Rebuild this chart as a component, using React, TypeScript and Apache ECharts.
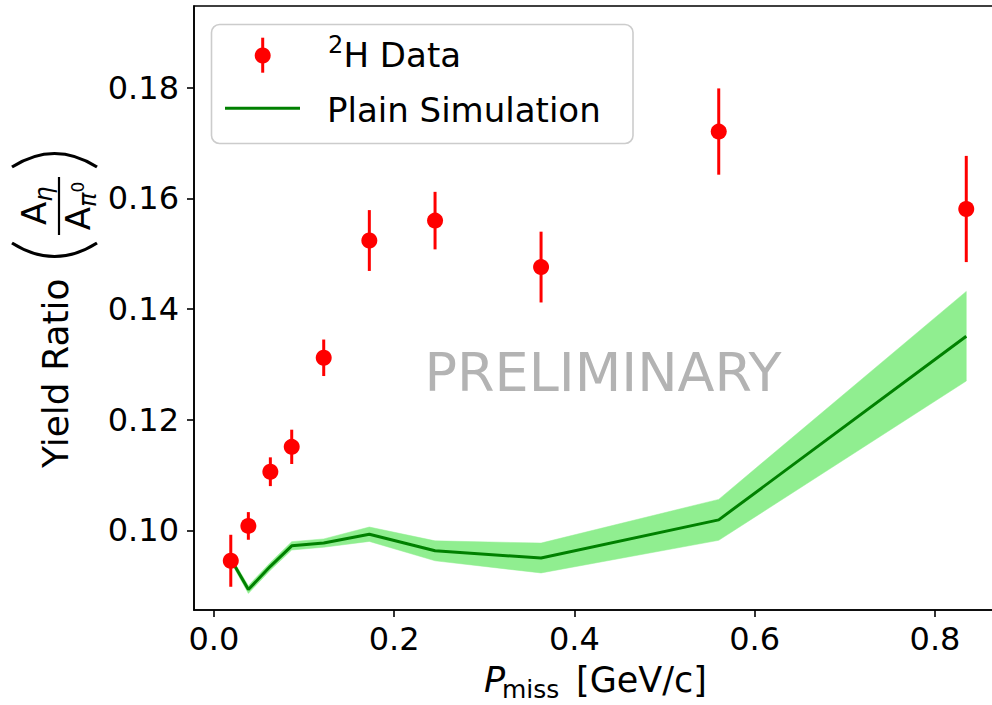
import React, { useEffect, useRef } from "react";
import * as echarts from "echarts";

const xVals = [0.0188, 0.0383, 0.0627, 0.0864, 0.1219, 0.1725, 0.2454, 0.363, 0.5601, 0.8347];
const dataY = [0.0945, 0.1008, 0.1106, 0.1151, 0.1312, 0.1524, 0.156, 0.1476, 0.1721, 0.1581];
const dataErr = [0.0047, 0.0025, 0.0026, 0.0031, 0.0033, 0.0055, 0.0052, 0.0064, 0.0078, 0.0096];
const simY = [0.0948, 0.0893, 0.0935, 0.0972, 0.0977, 0.0993, 0.0963, 0.095, 0.1019, 0.1351];
const simErr = [0.0005, 0.0007, 0.0007, 0.00075, 0.00075, 0.0013, 0.0018, 0.0027, 0.0037, 0.0081];
const xTicks = [0, 0.2, 0.4, 0.6, 0.8];
const yTicks = [0.1, 0.12, 0.14, 0.16, 0.18];

const FONT = "DejaVu Sans";

export default function App() {
  const ref = useRef<HTMLDivElement>(null);
  useEffect(() => {
    if (!ref.current) return;
    const chart = echarts.init(ref.current, null, { renderer: "svg" });
    const bandData = xVals.map((x, i) => [x, simY[i] - simErr[i], simY[i] + simErr[i]]);
    const option: any = {
      animation: false,
      backgroundColor: "#ffffff",
      grid: {
        left: 194,
        top: 6,
        width: 809.5,
        height: 604,
        show: true,
        borderColor: "#000",
        borderWidth: 1.6,
        backgroundColor: "transparent",
      },
      xAxis: {
        type: "value",
        min: -0.022,
        max: 0.876,
        splitLine: { show: false },
        axisLine: { show: true, onZero: false, lineStyle: { color: "#000", width: 1.6 } },
        axisTick: { show: true, inside: false, length: 7, customValues: xTicks, lineStyle: { color: "#000", width: 1.6 } },
        axisLabel: {
          customValues: xTicks,
          margin: 13,
          fontSize: 32,
          fontFamily: FONT,
          color: "#000",
          formatter: (v: number) => v.toFixed(1),
        },
      },
      yAxis: {
        type: "value",
        min: 0.0856,
        max: 0.1948,
        splitLine: { show: false },
        axisLine: { show: true, onZero: false, lineStyle: { color: "#000", width: 1.6 } },
        axisTick: { show: true, inside: false, length: 7, customValues: yTicks, lineStyle: { color: "#000", width: 1.6 } },
        axisLabel: {
          customValues: yTicks,
          margin: 15,
          fontSize: 32,
          fontFamily: FONT,
          color: "#000",
          formatter: (v: number) => v.toFixed(2),
        },
      },
      series: [
        {
          type: "custom",
          name: "band",
          data: bandData,
          encode: { x: 0, y: [1, 2] },
          renderItem: (params: any, api: any) => {
            if (params.dataIndex !== 0) return null;
            const upper = bandData.map((d) => api.coord([d[0], d[2]]));
            const lower = bandData.map((d) => api.coord([d[0], d[1]])).reverse();
            return {
              type: "polygon",
              shape: { points: upper.concat(lower) },
              style: { fill: "#90ee90", stroke: "#90ee90", lineWidth: 0.5 },
            };
          },
          z: 1,
        },
        {
          type: "line",
          name: "Plain Simulation",
          data: xVals.map((x, i) => [x, simY[i]]),
          showSymbol: false,
          symbol: "none",
          lineStyle: { color: "#008000", width: 3 },
          itemStyle: { color: "#008000" },
          z: 2,
        },
        {
          type: "custom",
          name: "errors",
          data: xVals.map((x, i) => [x, dataY[i], dataErr[i]]),
          encode: { x: 0, y: 1 },
          renderItem: (params: any, api: any) => {
            const x = api.value(0);
            const y = api.value(1);
            const e = api.value(2);
            const p1 = api.coord([x, y - e]);
            const p2 = api.coord([x, y + e]);
            return {
              type: "line",
              shape: { x1: p1[0], y1: p1[1], x2: p2[0], y2: p2[1] },
              style: { stroke: "#ff0000", lineWidth: 3 },
            };
          },
          z: 3,
        },
        {
          type: "scatter",
          name: "2H Data",
          data: xVals.map((x, i) => [x, dataY[i]]),
          symbol: "circle",
          symbolSize: 16,
          itemStyle: { color: "#ff0000", opacity: 1 },
          emphasis: { disabled: true },
          z: 4,
        },
      ],
      graphic: [
        {
          type: "text",
          z: 50,
          style: {
            text: "PRELIMINARY",
            x: 603,
            y: 372,
            align: "center",
            verticalAlign: "middle",
            fontSize: 54,
            fontFamily: FONT,
            fill: "#b3b3b3",
          },
        },
        {
          type: "group",
          z: 100,
          children: [
            {
              type: "rect",
              shape: { x: 211.5, y: 24.5, width: 421.5, height: 119, r: 8 },
              style: { fill: "rgba(255,255,255,0.8)", stroke: "#cccccc", lineWidth: 1.6 },
            },
            {
              type: "line",
              shape: { x1: 262.7, y1: 37.7, x2: 262.7, y2: 72.7 },
              style: { stroke: "#ff0000", lineWidth: 3 },
            },
            {
              type: "circle",
              shape: { cx: 262.7, cy: 55.5, r: 8 },
              style: { fill: "#ff0000" },
            },
            {
              type: "line",
              shape: { x1: 225, y1: 108.3, x2: 300, y2: 108.3 },
              style: { stroke: "#008000", lineWidth: 3 },
            },
            {
              type: "text",
              style: {
                text: "2",
                x: 328,
                y: 44.5,
                verticalAlign: "middle",
                fontSize: 24,
                fontFamily: FONT,
                fill: "#000",
              },
            },
            {
              type: "text",
              style: {
                text: "H Data",
                x: 343.5,
                y: 54.5,
                verticalAlign: "middle",
                fontSize: 34,
                fontFamily: FONT,
                fill: "#000",
              },
            },
            {
              type: "text",
              style: {
                text: "Plain Simulation",
                x: 327,
                y: 109.5,
                verticalAlign: "middle",
                fontSize: 34,
                fontFamily: FONT,
                fill: "#000",
              },
            },
          ],
        },
        {
          type: "group",
          children: [
            {
              type: "text",
              style: { text: "P", x: 484, y: 680, verticalAlign: "middle", fontSize: 35, fontStyle: "italic", fontFamily: FONT, fill: "#000" },
            },
            {
              type: "text",
              style: { text: "miss", x: 502, y: 689.5, verticalAlign: "middle", fontSize: 25, fontFamily: FONT, fill: "#000" },
            },
            {
              type: "text",
              style: { text: "[GeV/c]", x: 576, y: 680, verticalAlign: "middle", fontSize: 35, fontFamily: FONT, fill: "#000" },
            },
          ],
        },
        {
          type: "group",
          x: 0,
          y: 0,
          rotation: Math.PI / 2,
          children: [
            {
              type: "text",
              style: { text: "Yield Ratio", x: -468, y: 55.5, verticalAlign: "middle", fontSize: 36, fontFamily: FONT, fill: "#000" },
            },
            {
              type: "bezierCurve",
              shape: { x1: -243, y1: 12, x2: -243, y2: 97, cpx1: -270, cpy1: 54.5 },
              style: { stroke: "#000", lineWidth: 3.2, fill: null },
            },
            {
              type: "bezierCurve",
              shape: { x1: -167, y1: 12, x2: -167, y2: 97, cpx1: -140, cpy1: 54.5 },
              style: { stroke: "#000", lineWidth: 3.2, fill: null },
            },
            {
              type: "line",
              shape: { x1: -235, y1: 59, x2: -177, y2: 59 },
              style: { stroke: "#000", lineWidth: 2.2 },
            },
            {
              type: "text",
              style: { text: "A", x: -225, y: 34.2, verticalAlign: "middle", fontSize: 34, fontFamily: FONT, fill: "#000" },
            },
            {
              type: "text",
              style: { text: "η", x: -201.7, y: 43.7, verticalAlign: "middle", fontSize: 24, fontStyle: "italic", fontFamily: FONT, fill: "#000" },
            },
            {
              type: "text",
              style: { text: "A", x: -230.2, y: 78.2, verticalAlign: "middle", fontSize: 34, fontFamily: FONT, fill: "#000" },
            },
            {
              type: "text",
              style: { text: "π", x: -206.9, y: 87.7, verticalAlign: "middle", fontSize: 24, fontStyle: "italic", fontFamily: FONT, fill: "#000" },
            },
            {
              type: "text",
              style: { text: "0", x: -192.5, y: 78.1, verticalAlign: "middle", fontSize: 17, fontFamily: FONT, fill: "#000" },
            },
          ],
        },
      ],
    };
    chart.setOption(option);
    return () => chart.dispose();
  }, []);
  return (
    <div style={{ position: "fixed", left: 0, top: 0, width: 992, height: 705, overflow: "hidden", background: "#fff" }}>
      <div ref={ref} style={{ width: 1010, height: 705 }} />
    </div>
  );
}
